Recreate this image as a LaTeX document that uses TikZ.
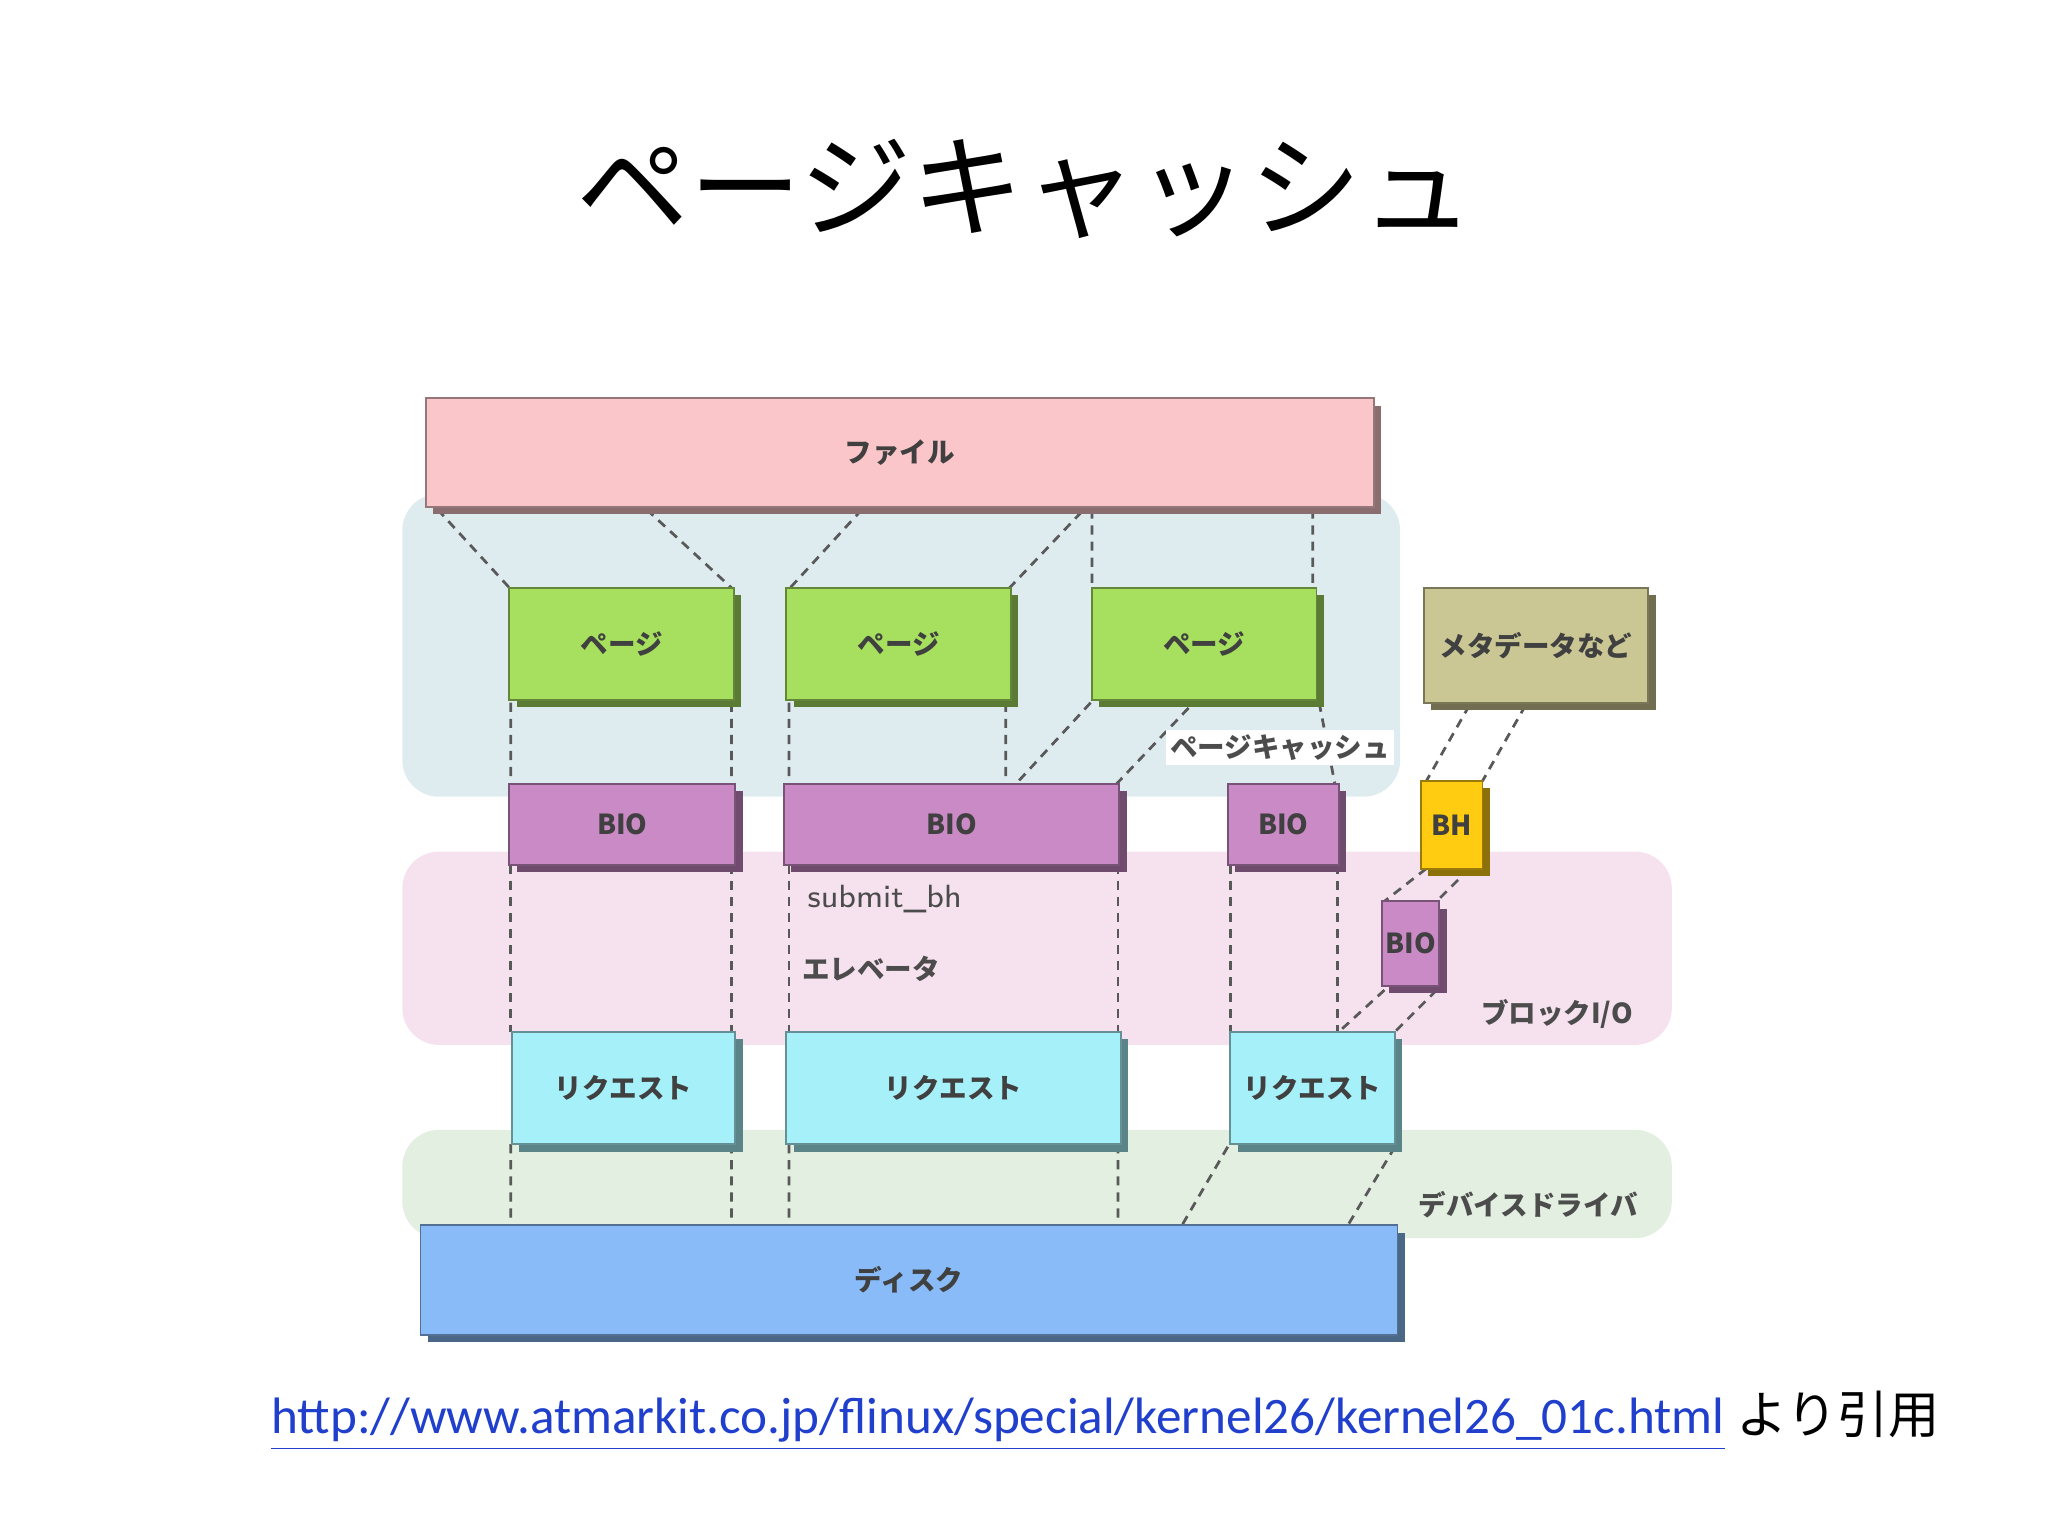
\documentclass[tikz,border=0pt]{standalone}
\usepackage{fontspec}
\setmainfont{Carlito}
\newfontfamily\jp{Noto Sans CJK JP}
\begin{document}
\begin{tikzpicture}[x=0.1mm,y=-0.1mm,
  bx/.style={draw=#1!60!black, line width=0.4pt, fill=#1, inner sep=0pt,
    font=\jp\bfseries\fontsize{6}{7}\selectfont, text=black!75,
    preaction={fill=#1!55!black, transform canvas={shift={(1.6pt,-1.6pt)}}}},
  band/.style={fill=#1, draw=none, rounded corners=8pt},
  dl/.style={dashed, dash pattern=on 2pt off 1.5pt, line width=0.6pt, black!65},
  lab/.style={font=\jp\bfseries\fontsize{6}{7}\selectfont, text=black!70, fill=white, inner sep=1pt}]
\newcommand\bxx[7]{\node[bx=#2, minimum width={(#5-#3)*0.1mm}, minimum height={(#6-#4)*0.1mm}] (#1) at ({(#3+#5)/2},{(#4+#6)/2}) {#7};}
\useasboundingbox (0,0) rectangle (1568,1176);
\definecolor{cfile}{HTML}{FAC6C9}\definecolor{cpage}{HTML}{A6E05E}
\definecolor{cmeta}{HTML}{CBC794}\definecolor{cbio}{HTML}{C98AC6}
\definecolor{cbh}{HTML}{FFCC11}\definecolor{creq}{HTML}{A6F0FA}
\definecolor{cdisk}{HTML}{88BBF7}
\definecolor{bpc}{HTML}{DFECEF}\definecolor{bbio}{HTML}{F6E2EF}\definecolor{bdd}{HTML}{E2EFE1}
\node[font=\jp\fontsize{24.5}{28}\selectfont] (title) at (785,145) {ページキャッシュ};
\fill[band=bpc] (308,378) rectangle (1072,610);
\fill[band=bbio] (308,652) rectangle (1280,800);
\fill[band=bdd] (308,865) rectangle (1280,948);
% dashed lines
\draw[dl] (335,390)--(390,450) (495,390)--(560,450) (660,390)--(605,450) (828,392)--(773,450)
 (836,390)--(836,450) (1005,390)--(1005,450);
\draw[dl] (391,538)--(391,600) (560,538)--(560,600) (604,538)--(604,600) (770,538)--(770,600)
 (835,538)--(778,600) (910,542)--(855,600) (1010,538)--(1022,600);
\draw[dl] (391,662)--(391,790) (560,662)--(560,790) (604,662)--(604,790) (856,662)--(856,790)
 (942,662)--(942,790) (1024,662)--(1024,790);
\draw[dl] (391,876)--(391,938) (560,876)--(560,938) (604,876)--(604,938) (856,876)--(856,938)
 (940,878)--(905,938) (1068,878)--(1032,938);
\draw[dl] (1125,540)--(1092,598) (1168,540)--(1135,598) (1092,665)--(1060,690) (1125,665)--(1100,690)
 (1060,758)--(1025,790) (1100,758)--(1068,790);
% boxes
\bxx{file}{cfile}{326}{305}{1052}{388}{ファイル}
\bxx{p1}{cpage}{390}{450}{562}{536}{ページ}
\bxx{p2}{cpage}{602}{450}{774}{536}{ページ}
\bxx{p3}{cpage}{836}{450}{1008}{536}{ページ}
\bxx{meta}{cmeta}{1090}{450}{1262}{538}{メタデータなど}
\bxx{b1}{cbio}{390}{600}{563}{662}{BIO}
\bxx{b2}{cbio}{600}{600}{857}{662}{BIO}
\bxx{b3}{cbio}{940}{600}{1025}{662}{BIO}
\bxx{bh}{cbh}{1088}{598}{1135}{665}{BH}
\bxx{b4}{cbio}{1058}{690}{1102}{755}{BIO}
\bxx{r1}{creq}{392}{790}{563}{876}{リクエスト}
\bxx{r2}{creq}{602}{790}{858}{876}{リクエスト}
\bxx{r3}{creq}{942}{790}{1068}{876}{リクエスト}
\bxx{disk}{cdisk}{322}{938}{1070}{1022}{ディスク}
% labels
\node[lab] (lpc) at (980,572) {ページキャッシュ};
\node[font=\sffamily\fontsize{7}{8}\selectfont, text=black!70, anchor=west] (lsb) at (606,688) {submit\_bh};
\node[lab, fill=none, anchor=west] (lel) at (610,742) {エレベータ};
\node[lab, fill=none] (lbio) at (1192,776) {ブロックI/O};
\node[lab, fill=none] (ldd) at (1170,922) {デバイスドライバ};
% footer
\node[anchor=west, font=\fontsize{11.15}{12}\selectfont, inner sep=0pt] (url) at (207,1088)
 {\textcolor[HTML]{1F3FCC}{\underline{http://www.atmarkit.co.jp/flinux/special/kernel26/kernel26\_01c.html}} {\jp より引用}};
\end{tikzpicture}
\end{document}
